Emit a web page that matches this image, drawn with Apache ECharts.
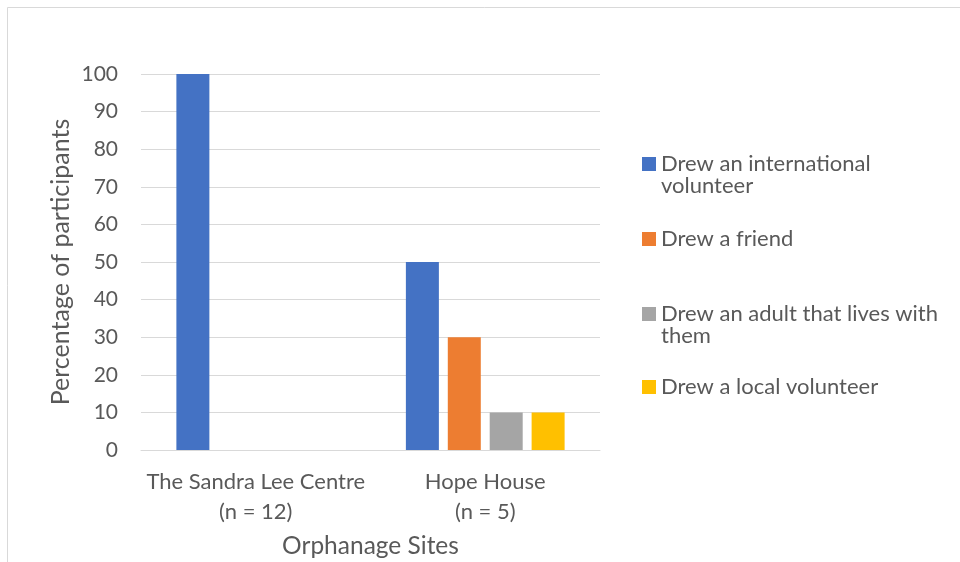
<!DOCTYPE html>
<html>
<head>
<meta charset="utf-8">
<script src="https://cdn.jsdelivr.net/npm/echarts@6/dist/echarts.min.js"></script>
<style>
  html, body { margin: 0; padding: 0; background: #fff; }
  #chart { width: 960px; height: 562px; }
</style>
</head>
<body>
<div id="chart"></div>
<script>
// Sites surveyed and what the children drew (percentage of participants)
const sites = ['The Sandra Lee Centre\n(n = 12)', 'Hope House\n(n = 5)'];
const seriesNames = [
  'Drew an international volunteer',
  'Drew a friend',
  'Drew an adult that lives with them',
  'Drew a local volunteer'
];
const internationalVolunteer = [100, 50];
const friend = [0, 30];
const adultLivingWith = [0, 10];
const localVolunteer = [0, 10];
const yTicks = [0, 10, 20, 30, 40, 50, 60, 70, 80, 90, 100];

const palette = ['#4472C4', '#ED7D31', '#A5A5A5', '#FFC000'];
const values = [internationalVolunteer, friend, adultLivingWith, localVolunteer];
const textColor = '#595959';
const fontFamily = 'Lato, "Open Sans", sans-serif';

// Legend entries: first line goes in the legend, wrapped remainder is placed below it
const legendFirstLines = ['Drew an international', 'Drew a friend', 'Drew an adult that lives with', 'Drew a local volunteer'];
const legendSecondLines = ['volunteer', '', 'them', ''];
const legendCentres = [160, 235, 310, 383];
const legendFont = 22;
const legendLineStep = 28;
const textLift = 2.5; // raise glyphs so the cap height centres on the swatch

const chart = echarts.init(document.getElementById('chart'), null, { renderer: 'canvas' });

const legends = seriesNames.map((name, i) => ({
  data: [name],
  left: 642,
  top: legendCentres[i] - 7,
  padding: 0,
  itemWidth: 14,
  itemHeight: 14,
  itemGap: 0,
  icon: 'rect',
  selectedMode: false,
  formatter: () => legendFirstLines[i],
  textStyle: {
    color: textColor, fontSize: legendFont, fontFamily: fontFamily,
    padding: [0, 0, textLift * 2, 0]
  }
}));

const legendWraps = legendSecondLines
  .map((t, i) => ({ t, i }))
  .filter(o => o.t)
  .map(o => ({
    type: 'text',
    x: 661,
    y: legendCentres[o.i] + legendLineStep - textLift,
    style: {
      text: o.t, fill: textColor, fontSize: legendFont, fontFamily: fontFamily,
      verticalAlign: 'middle', align: 'left'
    }
  }));

chart.setOption({
  backgroundColor: '#fff',
  animation: false,
  color: palette,
  grid: { left: 141, right: 360, top: 74, bottom: 112, outerBoundsMode: 'none', containLabel: false },
  legend: legends,
  graphic: [
    {
      type: 'rect',
      shape: { x: 7.5, y: 7.5, width: 1000, height: 600 },
      style: { fill: 'none', stroke: '#d9d9d9', lineWidth: 1 },
      silent: true
    }
  ].concat(legendWraps),
  xAxis: {
    type: 'category',
    data: sites,
    name: 'Orphanage Sites',
    nameLocation: 'middle',
    nameGap: 84,
    nameTextStyle: { color: textColor, fontSize: 24.5, fontFamily: fontFamily },
    axisLine: { lineStyle: { color: '#d9d9d9', width: 1 } },
    axisTick: { show: false },
    axisLabel: {
      color: textColor, fontSize: 22, fontFamily: fontFamily,
      lineHeight: 30, margin: 17, interval: 0
    }
  },
  yAxis: {
    type: 'value',
    min: yTicks[0],
    max: yTicks[yTicks.length - 1],
    interval: yTicks[1] - yTicks[0],
    name: 'Percentage of participants',
    nameLocation: 'middle',
    nameGap: 68,
    nameTextStyle: { color: textColor, fontSize: 25, fontFamily: fontFamily },
    axisLine: { show: false },
    axisTick: { show: false },
    axisLabel: { color: textColor, fontSize: 21, fontFamily: fontFamily, margin: 23 },
    splitLine: { lineStyle: { color: '#d9d9d9', width: 1 } }
  },
  series: seriesNames.map((name, i) => ({
    name: name,
    type: 'bar',
    data: values[i],
    barWidth: 33,
    barGap: '27%',
    itemStyle: { color: palette[i] }
  }))
});
</script>
</body>
</html>
